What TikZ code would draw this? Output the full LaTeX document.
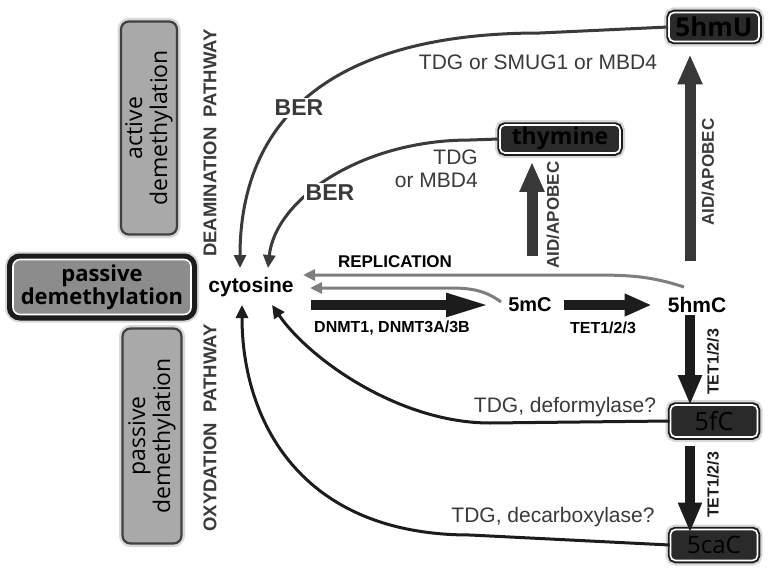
\documentclass[tikz,border=0pt]{standalone}
\usepackage{fontspec}
\setmainfont{Liberation Sans}
\newfontfamily\boxfont{Open Sans}
\usetikzlibrary{arrows.meta,calc}
\definecolor{darkfill}{HTML}{2A2A2A}
\definecolor{graybox}{HTML}{A9A9A9}
\definecolor{graybox2}{HTML}{8C8C8C}
\definecolor{labgray}{HTML}{3A3A3A}
\definecolor{replgray}{HTML}{7E7E7E}
\definecolor{arrblack}{HTML}{1C1C1C}
\definecolor{arrgray}{HTML}{383838}
\begin{document}
\begin{tikzpicture}[x=1pt,y=-1pt,
  darkbox/.style={rounded corners=5pt, fill=darkfill, draw=white, line width=1.6pt,
    preaction={draw=gray!60, line width=10pt, opacity=0.5},
    preaction={draw=arrblack, line width=5.5pt},
    inner sep=0pt, text=black, font=\boxfont\bfseries\fontsize{26}{28}\selectfont},
  vbox/.style={rounded corners=8pt, fill=graybox, draw=black!75, line width=2.2pt,
    preaction={draw=gray!50, line width=7pt, opacity=0.6},
    rotate=90, inner sep=0pt, align=center, text=black,
    font=\boxfont\fontsize{23}{25}\selectfont},
  pbox/.style={rounded corners=7pt, fill=graybox2, draw=white, line width=1.6pt,
    preaction={draw=gray!60, line width=16pt, opacity=0.5},
    preaction={draw=arrblack, line width=12pt},
    inner sep=0pt, align=center, text=black,
    font=\boxfont\bfseries\fontsize{22}{23}\selectfont},
  molec/.style={font=\bfseries\fontsize{21}{24}\selectfont, inner sep=2pt},
  enzlab/.style={font=\bfseries\fontsize{16}{18}\selectfont, text=black, inner sep=0pt},
  rotlab/.style={font=\bfseries\fontsize{17}{18}\selectfont, text=labgray, rotate=90, inner sep=0pt},
  pathlab/.style={font=\bfseries\fontsize{18.5}{20}\selectfont, text=labgray, rotate=90, inner sep=0pt},
  tdglab/.style={font=\fontsize{21}{23}\selectfont, text=labgray, inner sep=0pt},
  berlab/.style={font=\bfseries\fontsize{23}{25}\selectfont, text=labgray, fill=white, inner sep=2pt},
  berline/.style={draw=labgray, line width=3pt, -{Triangle[length=13pt,width=12pt]}},
  tdgline/.style={draw=arrblack, line width=3pt, -{Triangle[length=13pt,width=12pt]}},
  replline/.style={draw=replgray, line width=3pt, -{Triangle[length=12pt,width=11pt]}},
  fatblack/.style={draw=arrblack, line width=10pt, -{Triangle[length=30pt,width=22pt]}},
  fatgray/.style={draw=arrgray, line width=11pt, -{Triangle[length=30pt,width=23pt]}}
]
\useasboundingbox (0,0) rectangle (774,578);
\fill[white] (0,0) rectangle (774,578);

% side boxes
\node[vbox, minimum width=213pt, minimum height=56pt] (act) at (149,128) {active\\demethylation};
\node[pbox, minimum width=178pt, minimum height=55pt] (pas) at (102,287) {passive\\demethylation};
\node[vbox, minimum width=215pt, minimum height=59pt] (pas2) at (152,436) {passive\\demethylation};

\node[pathlab] (deam) at (210,143) {DEAMINATION\ \ PATHWAY};
\node[pathlab] (oxy) at (210,428) {OXYDATION\ \ PATHWAY};

% molecules
\node[molec] (cyt) at (251,287) {cytosine};
\node[molec, font=\bfseries\fontsize{20}{24}\selectfont] (mC) at (530,305) {5mC};
\node[molec] (hmC) at (697,305) {5hmC};

\node[darkbox, minimum width=90pt, minimum height=29pt] (hmU) at (714,27) {5hmU};
\node[darkbox, minimum width=120pt, minimum height=28pt, font=\boxfont\bfseries\fontsize{23}{26}\selectfont] (thy) at (560,139) {thymine};
\node[darkbox, minimum width=87pt, minimum height=32pt, font=\boxfont\fontsize{25}{28}\selectfont] (fC) at (714,421) {5fC};
\node[darkbox, minimum width=87pt, minimum height=31pt, font=\boxfont\fontsize{24}{28}\selectfont] (caC) at (714,545) {5caC};

% helper coordinates near cytosine
\coordinate (berA) at (240,268);
\coordinate (berB) at (268,268);
\coordinate (tdgA) at (272,305);
\coordinate (tdgB) at (242,305);
\coordinate (repA) at (303,275);
\coordinate (repB) at (310,288);
\coordinate (hmCtop) at (684,287);
\coordinate (mCtop) at (501,302);

% BER curves
\draw[berline] (hmU.west) -- (540,33) .. controls (330,33) and (240,120) .. (berA);
\node[berlab] (ber1) at (299,108) {BER};
\draw[berline] (thy.west) -- (470,140) .. controls (360,140) and (275,200) .. (berB);
\node[berlab] (ber2) at (330,193) {BER};

\node[tdglab] (tdg1) at (538,62) {TDG or SMUG1 or MBD4};
\node[tdglab, anchor=north east, align=right] (tdg2) at (478,150) {TDG\\or MBD4};

% TDG curves from 5fC and 5caC
\draw[tdgline] (fC.west) -- (490,423) .. controls (400,423) and (310,360) .. (tdgA);
\draw[tdgline] (caC.west) -- (470,535) .. controls (300,535) and (242,420) .. (tdgB);
\node[tdglab] (tdg3) at (565,407) {TDG, deformylase?};
\node[tdglab] (tdg4) at (553,517) {TDG, decarboxylase?};

% replication
\draw[replline] (hmCtop) .. controls (650,276) and (630,275) .. (590,275) -- (repA);
\draw[replline] (mCtop) .. controls (485,290) and (470,288) .. (450,288) -- (repB);
\node[enzlab, font=\bfseries\fontsize{17}{19}\selectfont] (repl) at (395,262) {REPLICATION};

% methylation / oxidation
\draw[fatblack, -{Triangle[length=45pt,width=21pt]}] ([xshift=15pt]cyt.east |- mC.west) -- ([xshift=-15pt]mC.west);
\node[enzlab] (dnmt) at (392,328) {DNMT1, DNMT3A/3B};
\draw[fatblack, -{Triangle[length=27pt,width=21pt]}] ([xshift=10pt]mC.east) -- ([xshift=-14pt]hmC.west);
\node[enzlab] (tet0) at (603,328) {TET1/2/3};

\draw[fatblack] ([xshift=-24pt]fC.north |- hmC.south) -- ([xshift=-24pt, yshift=-1pt]fC.north);
\node[rotlab, font=\bfseries\fontsize{16}{18}\selectfont, text=arrblack] (tet1) at (713,362) {TET1/2/3};
\draw[fatblack] ([xshift=-24pt, yshift=-8pt]fC.south) -- ([xshift=-24pt, yshift=-4pt]caC.north);
\node[rotlab, font=\bfseries\fontsize{16}{18}\selectfont, text=arrblack] (tet2) at (713,485) {TET1/2/3};

% AID/APOBEC
\draw[fatgray] ([xshift=-28pt]thy.south |- repl.north) -- ([xshift=-28pt, yshift=-8pt]thy.south);
\node[rotlab] (aid1) at (553,215) {AID/APOBEC};
\draw[fatgray] ([xshift=-24pt, yshift=34pt]hmC.north -| hmU.south) -- ([xshift=-24pt, yshift=-12pt]hmU.south);
\node[rotlab] (aid2) at (708,172) {AID/APOBEC};
\end{tikzpicture}
\end{document}
